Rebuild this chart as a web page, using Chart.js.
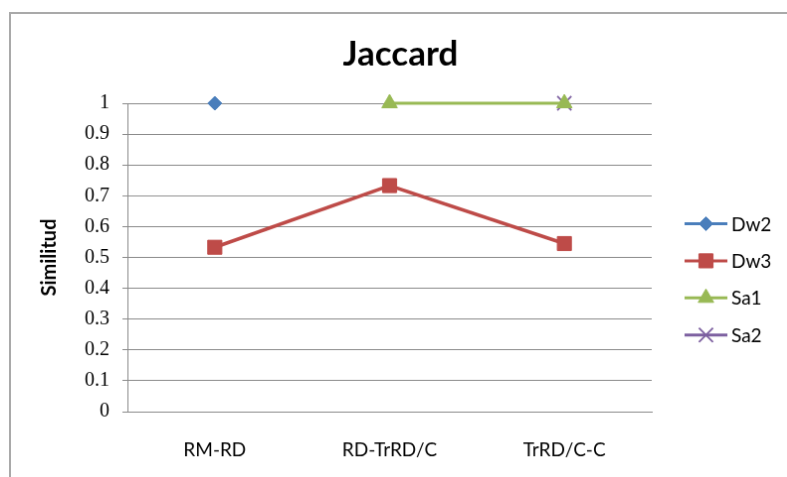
<!DOCTYPE html>
<html>
<head>
<meta charset="utf-8">
<script src="https://cdn.jsdelivr.net/npm/chart.js@4/dist/chart.umd.min.js"></script>
<style>
  html, body { margin: 0; padding: 0; background: #fff; overflow: hidden; width: 787px; height: 477px; }
  #jaccard { position: absolute; left: 9px; top: 12px; border: 2px solid #a9a9a9; }
</style>
</head>
<body>
<canvas id="jaccard" width="783" height="470"></canvas>
<script>
// Similarity between consecutive stages
const categories = ['RM-RD', 'RD-TrRD/C', 'TrRD/C-C'];
const dw2 = [1, null, null];
const dw3 = [0.533, 0.733, 0.545];
const sa1 = [null, 1, 1];
const sa2 = [null, null, 1];
const yTickLabels = ['0', '0.1', '0.2', '0.3', '0.4', '0.5', '0.6', '0.7', '0.8', '0.9', '1'];

const GRID = '#8b8b8b';
const SANS = 'Lato';

// Legend drawn as its own layout box on the right: line sample + marker + name
function makeLegendBox(chart) {
  return {
    position: 'right',
    weight: 10,
    fullSize: false,
    options: {},
    left: 0, top: 0, right: 0, bottom: 0, width: 0, height: 0,
    isHorizontal() { return false; },
    update(maxWidth, maxHeight) {
      this.width = 139;
      this.height = maxHeight;
      return { width: this.width, height: this.height };
    },
    getPadding() { return { top: 0, left: 0, right: 0, bottom: 0 }; },
    draw() {
      const ctx = chart.ctx;
      const x0 = this.left + 33, x1 = this.left + 76, tx = this.left + 80;
      chart.data.datasets.forEach((ds, i) => {
        const y = this.top + 121.5 + i * 37.4;
        ctx.save();
        ctx.strokeStyle = ds.borderColor;
        ctx.lineWidth = 3;
        ctx.beginPath();
        ctx.moveTo(x0, y);
        ctx.lineTo(x1, y);
        ctx.stroke();
        ctx.fillStyle = ds.pointBackgroundColor;
        ctx.strokeStyle = ds.pointBorderColor;
        ctx.lineWidth = ds.pointBorderWidth;
        Chart.helpers.drawPoint(ctx, {
          pointStyle: ds.pointStyle,
          radius: ds.pointRadius,
          rotation: 0,
          borderWidth: ds.pointBorderWidth
        }, (x0 + x1) / 2, y);
        ctx.fillStyle = '#000';
        ctx.font = '19px ' + SANS;
        ctx.textAlign = 'left';
        ctx.textBaseline = 'middle';
        ctx.fillText(ds.label, tx, y + 1);
        ctx.restore();
      });
    }
  };
}

const sideLegend = {
  id: 'sideLegend',
  beforeInit(chart) {
    Chart.layouts.addBox(chart, makeLegendBox(chart));
  }
};

function series(label, data, color, style, radius, lineWidth, markerBorder) {
  return {
    label, data,
    borderColor: color,
    backgroundColor: color,
    pointBackgroundColor: color,
    pointBorderColor: color,
    pointStyle: style,
    pointRadius: radius,
    pointHoverRadius: radius,
    pointBorderWidth: markerBorder,
    borderWidth: lineWidth,
    tension: 0,
    clip: false
  };
}

new Chart(document.getElementById('jaccard'), {
  type: 'line',
  data: {
    labels: categories,
    datasets: [
      series('Dw2', dw2, '#4a7ebb', 'rectRot', 7, 3, 1),
      series('Dw3', dw3, '#be4b48', 'rect', 10, 3.5, 1),
      series('Sa1', sa1, '#98b954', 'triangle', 9, 3, 1),
      series('Sa2', sa2, '#7d60a0', 'crossRot', 10, 3, 1.8)
    ]
  },
  options: {
    responsive: false,
    animation: false,
    events: [],
    layout: { padding: 0 },
    plugins: {
      legend: { display: false },
      tooltip: { enabled: false },
      title: {
        display: true,
        text: 'Jaccard',
        color: '#000',
        font: { family: SANS, size: 35, weight: 'bold' },
        padding: { top: 20, bottom: 28 }
      }
    },
    scales: {
      x: {
        offset: true,
        grid: { display: false, drawTicks: false },
        border: { display: true, color: GRID, width: 1 },
        ticks: { color: '#000', font: { family: SANS, size: 19 }, padding: 27 },
        afterFit(scale) { scale.height = 69; }
      },
      y: {
        min: 0,
        max: 1,
        ticks: {
          stepSize: 0.1,
          color: '#000',
          font: { family: 'Liberation Serif', size: 20 },
          padding: 13,
          callback: (v, i) => yTickLabels[i]
        },
        grid: { color: GRID, lineWidth: 1, tickLength: 5, tickColor: GRID },
        border: { display: true, color: GRID, width: 1 },
        title: {
          display: true,
          text: 'Similitud',
          color: '#000',
          font: { family: SANS, size: 20, weight: 'bold' },
          padding: { top: 27, bottom: 0 }
        },
        afterFit(scale) { scale.width = 117; }
      }
    }
  },
  plugins: [sideLegend]
});
</script>
</body>
</html>
